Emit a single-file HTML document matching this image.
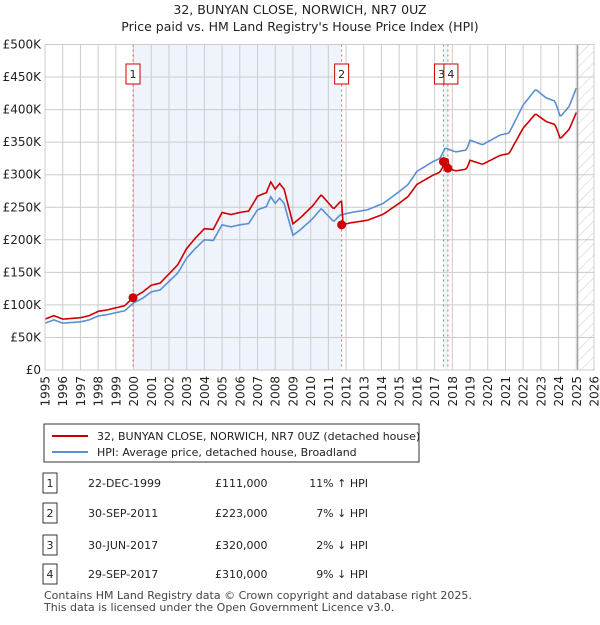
<!DOCTYPE html>
<html><head><meta charset="utf-8"><style>
body{margin:0;background:#fff;font-family:"Liberation Sans","DejaVu Sans",sans-serif;}
svg text{font-family:"DejaVu Sans","Liberation Sans",sans-serif;}
</style></head><body>
<svg width="600" height="620" xmlns="http://www.w3.org/2000/svg" id="chart">
<defs><pattern id="hatch" width="8" height="8" patternUnits="userSpaceOnUse" patternTransform="rotate(45)"><line x1="0" y1="0" x2="0" y2="8" stroke="#ccc" stroke-width="1"/></pattern></defs>
<text x="300" y="14" text-anchor="middle" font-size="12.5" fill="#222">32, BUNYAN CLOSE, NORWICH, NR7 0UZ</text>
<text x="300" y="31" text-anchor="middle" font-size="12.5" fill="#222">Price paid vs. HM Land Registry's House Price Index (HPI)</text>
<g id="grid"></g><g id="marks"></g><g id="axes"></g>
<rect x="44" y="424" width="375" height="38" fill="#fff" stroke="#333"/>
<line x1="52" y1="436" x2="88" y2="436" stroke="#cc0000" stroke-width="2"/>
<text x="97" y="440" font-size="11" fill="#222">32, BUNYAN CLOSE, NORWICH, NR7 0UZ (detached house)</text>
<line x1="52" y1="452" x2="88" y2="452" stroke="#5b8fd4" stroke-width="2"/>
<text x="97" y="456" font-size="11" fill="#222">HPI: Average price, detached house, Broadland</text>
<g id="table" font-size="11" fill="#222"></g>
<text x="44" y="599" font-size="11" fill="#444">Contains HM Land Registry data © Crown copyright and database right 2025.</text>
<text x="44" y="611" font-size="11" fill="#444">This data is licensed under the Open Government Licence v3.0.</text>
</svg>
<script>
const hpiYears=[1995,1995.5,1996,1996.5,1997,1997.5,1998,1998.5,1999,1999.5,2000,2000.5,2001,2001.5,2002,2002.5,2003,2003.5,2004,2004.5,2005,2005.5,2006,2006.5,2007,2007.5,2007.75,2008,2008.25,2008.5,2009,2009.4,2010.1,2010.6,2011.3,2011.66,2012.3,2013.2,2014.1,2015,2015.5,2016,2016.9,2017.3,2017.6,2018.2,2018.8,2019,2019.7,2020.7,2021.2,2022,2022.7,2023.3,2023.8,2024.1,2024.6,2025,2025.1];
const hpiValues=[72,77,72,73,74,77,83,85,88,91,103,110,120,123,136,149,172,187,200,199,223,220,223,225,246,251,266,256,264,256,207,215,232,248,228,238,242,246,256,274,285,305,320,325,341,335,338,353,346,361,364,407,431,418,413,389,405,433,425];
const saleLabels=["1","2","3","4"];
const saleDates=[1999.97,2011.75,2017.5,2017.75];
const salePrices=[111,223,320,310];
const saleDateText=["22-DEC-1999","30-SEP-2011","30-JUN-2017","29-SEP-2017"];
const salePriceText=["£111,000","£223,000","£320,000","£310,000"];
const saleHpiText=["11% ↑ HPI","7% ↓ HPI","2% ↓ HPI","9% ↓ HPI"];
const yTicks=[0,50,100,150,200,250,300,350,400,450,500];
const yTickLabels=["£0","£50K","£100K","£150K","£200K","£250K","£300K","£350K","£400K","£450K","£500K"];
const xYears=[1995,1996,1997,1998,1999,2000,2001,2002,2003,2004,2005,2006,2007,2008,2009,2010,2011,2012,2013,2014,2015,2016,2017,2018,2019,2020,2021,2022,2023,2024,2025,2026];
const X0=45,X1=594,Y0=370,Y1=44.5,xMin=1995,xMax=2026,yMax=500,hatchStart=2025.08;
const sx=t=>X0+(t-xMin)/(xMax-xMin)*(X1-X0);
const sy=v=>Y0-v/yMax*(Y0-Y1);
const NS="http://www.w3.org/2000/svg";
function mk(tag,attrs,parent,txt){const e=document.createElementNS(NS,tag);for(const k in attrs)e.setAttribute(k,attrs[k]);if(txt!==undefined)e.textContent=txt;parent.appendChild(e);return e;}
function hpiAt(t){if(t<=hpiYears[0])return hpiValues[0];for(let i=1;i<hpiYears.length;i++){if(t<=hpiYears[i]){const f=(t-hpiYears[i-1])/(hpiYears[i]-hpiYears[i-1]);return hpiValues[i-1]+f*(hpiValues[i]-hpiValues[i-1]);}}return hpiValues[hpiValues.length-1];}
const grid=document.getElementById('grid'),marks=document.getElementById('marks'),axes=document.getElementById('axes');
const sh1=mk('rect',{x:sx(saleDates[0]),y:Y1,width:sx(saleDates[1])-sx(saleDates[0]),height:Y0-Y1,fill:'#eef3fc'},grid);


const sh2=mk('rect',{x:sx(saleDates[2]),y:Y1,width:sx(saleDates[3])-sx(saleDates[2]),height:Y0-Y1,fill:'#eef3fc'},grid);


const hz=mk('rect',{x:sx(hatchStart),y:Y1,width:X1-sx(hatchStart),height:Y0-Y1,fill:'url(#hatch)'},grid);


yTicks.forEach((v,i)=>{
 const l=mk('line',{x1:X0,x2:X1,y1:sy(v),y2:sy(v),stroke:'#ccc'},grid);
 
 
 const t=mk('text',{x:X0-4,y:sy(v)+4,'text-anchor':'end','font-size':'12',fill:'#222'},axes,yTickLabels[i]);
 
 
});
xYears.forEach(y=>{
 const l=mk('line',{x1:sx(y),x2:sx(y),y1:Y1,y2:Y0,stroke:'#ccc'},grid);
 
 
 const x=sx(y)+4.5,yy=376;
 const t=mk('text',{x:x,y:yy,'text-anchor':'end','font-size':'12',fill:'#222',transform:'rotate(-90 '+x+' '+yy+')'},axes,String(y));
 
 
});
const vl=mk('line',{x1:sx(hatchStart),x2:sx(hatchStart),y1:Y1,y2:Y0,stroke:'#888'},grid);


saleDates.forEach((d,i)=>{
 const l=mk('line',{x1:sx(d),x2:sx(d),y1:Y1,y2:Y0,stroke:'#f06060','stroke-dasharray':'2,3'},grid);
 
 
});
const steps=[];for(let t=xMin;t<=hatchStart+0.001;t+=1/12)steps.push(t);
let bp='';steps.forEach((t,i)=>{bp+=(i?'L':'M')+sx(t).toFixed(1)+','+sy(hpiAt(t)).toFixed(1);});
const blue=mk('path',{d:bp,fill:'none',stroke:'#5b8fd4','stroke-width':1.6},marks);


function ratioAt(t){let k=0;for(let i=0;i<saleDates.length;i++){if(t>=saleDates[i])k=i;}return salePrices[k]/hpiAt(saleDates[k]);}
let rp='';steps.forEach((t,i)=>{rp+=(i?'L':'M')+sx(t).toFixed(1)+','+sy(hpiAt(t)*ratioAt(t)).toFixed(1);});
const red=mk('path',{d:rp,fill:'none',stroke:'#cc0000','stroke-width':1.6},marks);


saleDates.forEach((d,i)=>{
 const c=mk('circle',{cx:sx(d),cy:sy(salePrices[i]),r:4.5,fill:'#cc0000'},marks);
 
 
});
saleDates.forEach((d,i)=>{
 const g=mk('g',{},marks);
 
 
 const bx=sx(d)-(i===2?9:(i===3?4:7));
 mk('rect',{x:bx,y:64,width:14,height:20,fill:'#fff',stroke:'#cc0000'},g);
 mk('text',{x:bx+7,y:78,'text-anchor':'middle','font-size':'11',fill:'#222'},g,saleLabels[i]);
});
mk('rect',{x:X0,y:Y1,width:X1-X0,height:Y0-Y1,fill:'none',stroke:'#ccc'},axes);
const tb=document.getElementById('table');const rowY=[483,513,545,574];
saleLabels.forEach((s,i)=>{
 const g=mk('g',{},tb);
 
 
 mk('rect',{x:43,y:rowY[i]-10,width:14,height:20,fill:'#fff',stroke:'#333'},g);
 mk('text',{x:50,y:rowY[i]+4,'text-anchor':'middle'},g,s);
 mk('text',{x:88,y:rowY[i]+4},g,saleDateText[i]);
 mk('text',{x:215,y:rowY[i]+4},g,salePriceText[i]);
 mk('text',{x:368,y:rowY[i]+4,'text-anchor':'end'},g,saleHpiText[i]);
});
</script>
</body></html>
